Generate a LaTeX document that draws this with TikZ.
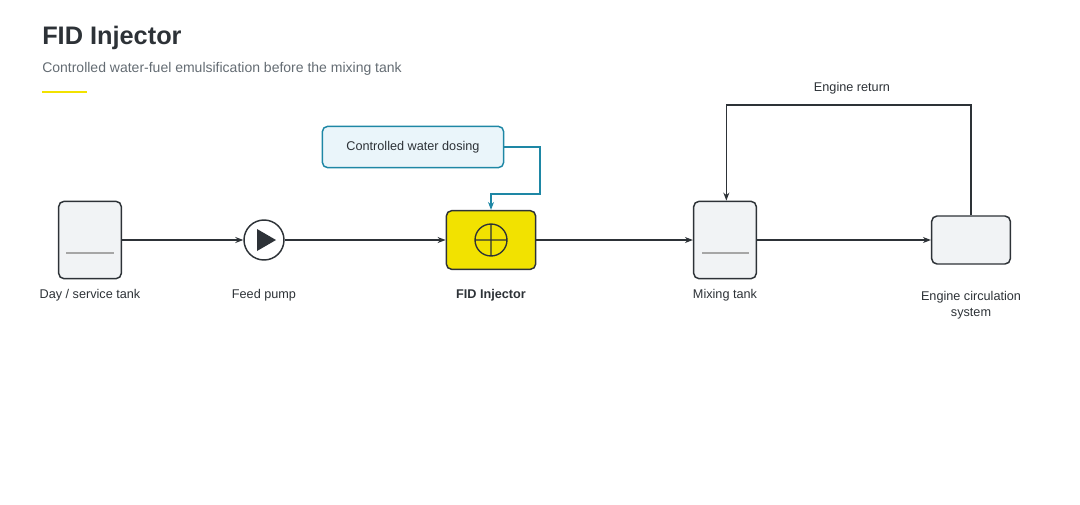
\documentclass[tikz,border=0pt]{standalone}
\usepackage{fontspec}
\setmainfont{Liberation Sans}
\usetikzlibrary{arrows.meta}
\definecolor{InkGrey}{RGB}{45,50,55}
\definecolor{SubGrey}{RGB}{100,108,115}
\definecolor{TankFill}{RGB}{241,243,245}
\definecolor{FidYellow}{RGB}{242,226,0}
\definecolor{DoseTeal}{RGB}{30,135,165}
\definecolor{DoseFill}{RGB}{234,245,250}
\tikzset{
  unit/.style={draw=InkGrey, line width=1.1pt, fill=TankFill, rounded corners=4pt},
  flow/.style={draw=InkGrey, line width=1pt, -{Stealth[length=6pt,width=4.5pt]}},
  dose/.style={draw=DoseTeal, line width=1.1pt, -{Stealth[length=6pt,width=4.5pt]}},
  lbl/.style={font=\fontsize{9.5}{12}\selectfont, text=InkGrey, align=center}
}
\begin{document}
\begin{tikzpicture}[x=0.75pt,y=0.75pt,yscale=-1,xscale=1]
		\useasboundingbox (0,0) rectangle (1080,504);

		% Title block
		\node[anchor=west, inner sep=0pt, font=\fontsize{19}{22}\bfseries\selectfont, text=InkGrey] (title) at (42,38) {FID Injector};
		\node[anchor=west, inner sep=0pt, font=\fontsize{10.5}{13}\selectfont, text=SubGrey] (subtitle) at (42,69) {Controlled water-fuel emulsification before the mixing tank};
		\draw[FidYellow, line width=2.2pt] (42,92) -- (87,92);

		% Units
		\node[unit, minimum width=47pt, minimum height=58pt] (daytank) at (90,240) {};
		\draw[gray!70, line width=1.1pt] (66,253) -- (114,253);
		\node[draw=InkGrey, line width=1.1pt, fill=white, circle, minimum size=30pt, inner sep=0pt] (pump) at (264,240) {};
		\fill[InkGrey] (257,229) -- (257,251) -- (276,240) -- cycle;
		\node[unit, fill=FidYellow, minimum width=67pt, minimum height=44pt] (fid) at (491,240) {};
		\draw[InkGrey, line width=1pt] (491,240) circle (16) (475,240) -- (507,240) (491,224) -- (491,256);
		\node[unit, draw=DoseTeal, fill=DoseFill, minimum width=136pt, minimum height=31pt, lbl] (dosing) at (413,147) {Controlled water dosing};
		\node[unit, minimum width=47pt, minimum height=58pt] (mixtank) at (725,240) {};
		\draw[gray!70, line width=1.1pt] (702,253) -- (749,253);
		\node[unit, minimum width=59pt, minimum height=36pt] (engine) at (971,240) {};

		% Labels
		\node[lbl] (daylbl) at (90,295) {Day / service tank};
		\node[lbl] (pumplbl) at (264,295) {Feed pump};
		\node[lbl, font=\fontsize{9.5}{12}\bfseries\selectfont] (fidlbl) at (491,295) {FID Injector};
		\node[lbl] (mixlbl) at (725,295) {Mixing tank};
		\node[lbl, anchor=north] (englbl) at (971,287) {Engine circulation\\system};

		% Connectors
		\draw[flow] (daytank) -- (pump);
		\draw[flow] (pump) -- (fid);
		\draw[flow] (fid) -- (mixtank);
		\draw[flow] (mixtank) -- (engine);
		\draw[dose] (dosing.east) -| (540,194) -| (fid.north);
		\draw[flow] (engine.north) |- (852,105) node[lbl, above=4pt] (retlbl) {Engine return} -| ([xshift=1pt]mixtank.north);
	\end{tikzpicture}
\end{document}
